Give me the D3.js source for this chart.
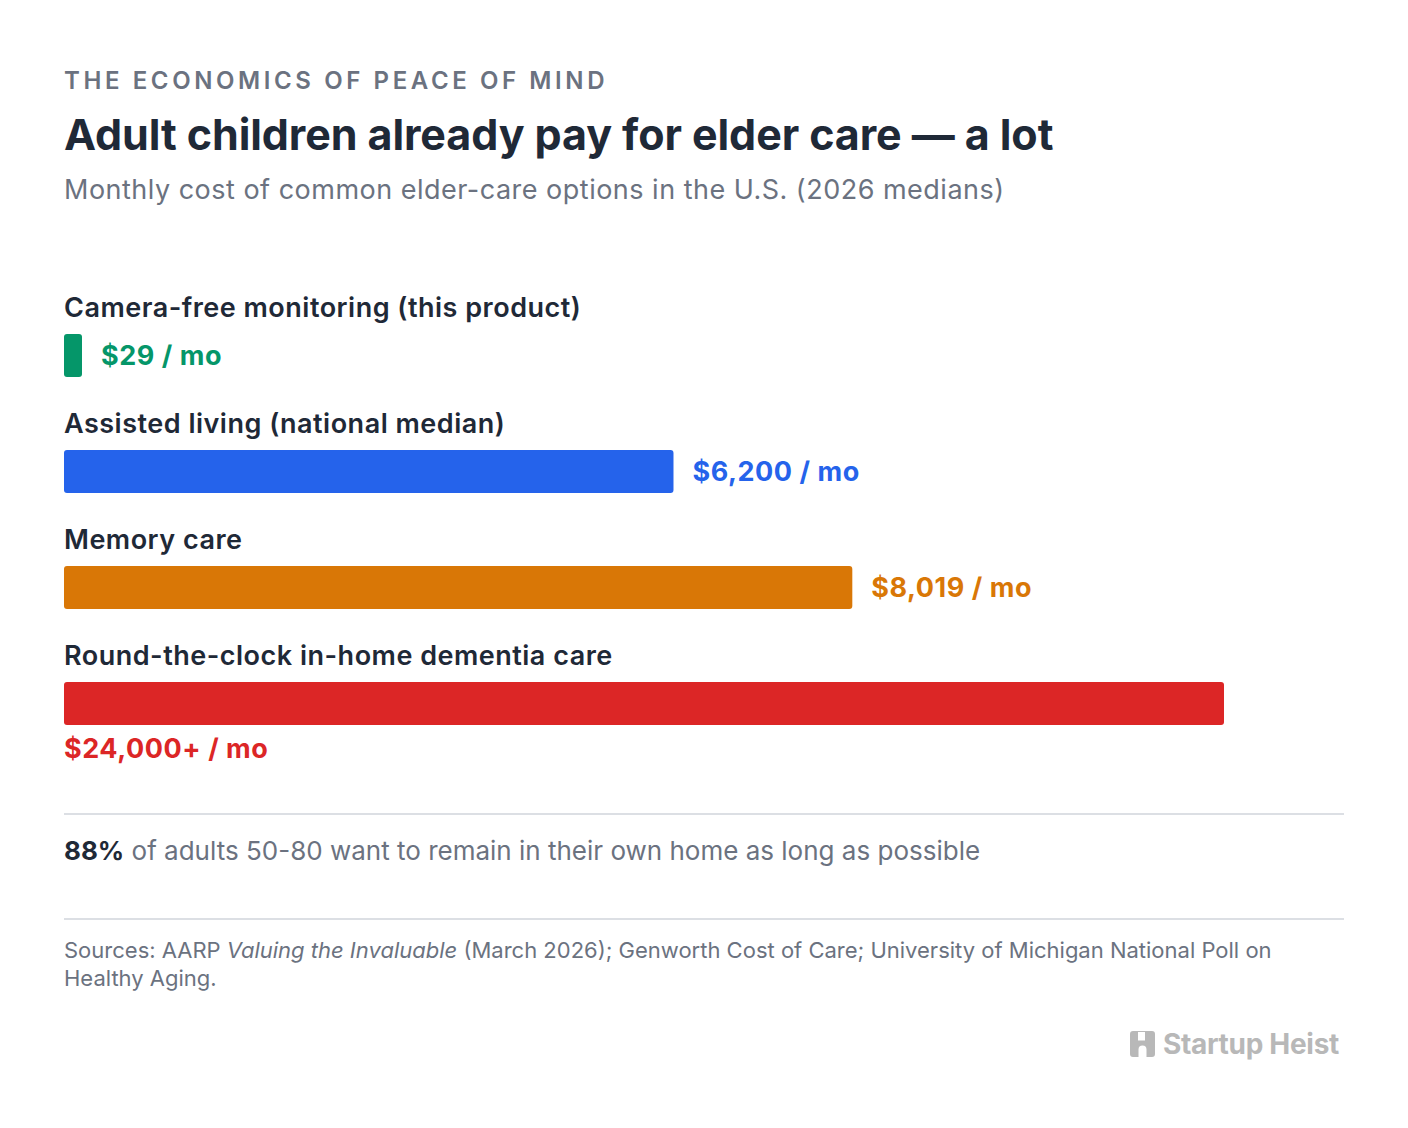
<!DOCTYPE html>
<html>
<head>
<meta charset="utf-8">
<script src="https://cdn.jsdelivr.net/npm/d3@7"></script>
<style>
  html, body { margin: 0; padding: 0; background: #fff; }
  svg { display: block; font-family: Inter, "Noto Sans", sans-serif; }
</style>
</head>
<body>
<svg id="chart" width="1408" height="1128"></svg>
<script>
const categories = [
  "Camera-free monitoring (this product)",
  "Assisted living (national median)",
  "Memory care",
  "Round-the-clock in-home dementia care"
];
const values = [29, 6200, 8019, 24000];
const valueLabels = ["$29 / mo", "$6,200 / mo", "$8,019 / mo", "$24,000+ / mo"];
const colors = ["#059669", "#2563eb", "#d97706", "#dc2626"];

const svg = d3.select("#chart");
const left = 64, right = 1344;

svg.append("text").attr("x", left).attr("y", 89)
  .attr("font-size", 24).attr("font-weight", 600).attr("letter-spacing", "3.6px")
  .attr("fill", "#6b7280").text("THE ECONOMICS OF PEACE OF MIND");

svg.append("text").attr("x", left).attr("y", 150)
  .attr("font-size", 43).attr("font-weight", 700).attr("letter-spacing", "-0.08px")
  .attr("fill", "#1f2937").text("Adult children already pay for elder care — a lot");

svg.append("text").attr("x", left).attr("y", 199)
  .attr("font-size", 27).attr("font-weight", 400).attr("letter-spacing", "0.49px")
  .attr("fill", "#6b7280").text("Monthly cost of common elder-care options in the U.S. (2026 medians)");

// scale: bars clamp at max width
const x = d3.scaleLinear().domain([0, 11800]).range([0, 1160]).clamp(true);
const y = d3.scaleBand().domain(categories).range([290, 754]).paddingInner(0).paddingOuter(0);
const minW = 18, barH = 43;

const rows = svg.append("g").selectAll("g").data(categories).join("g")
  .attr("transform", d => `translate(0,${y(d)})`);

rows.append("text").attr("x", left).attr("y", 27)
  .attr("font-size", 27).attr("font-weight", 600).attr("letter-spacing", "0.5px")
  .attr("fill", "#1f2937")
  .text(d => d);

rows.append("rect").attr("x", left).attr("y", 44)
  .attr("width", (d, i) => Math.max(minW, x(values[i])))
  .attr("height", barH).attr("rx", 3)
  .attr("fill", (d, i) => colors[i]);

rows.append("text")
  .attr("x", (d, i) => i === 3 ? left : left + Math.max(minW, x(values[i])) + 19)
  .attr("y", (d, i) => i === 3 ? 44 + barH + 33 : 75)
  .attr("font-size", 27).attr("font-weight", 700).attr("letter-spacing", "0.55px")
  .attr("fill", (d, i) => colors[i])
  .text((d, i) => valueLabels[i]);

svg.append("line").attr("x1", left).attr("x2", right).attr("y1", 814).attr("y2", 814)
  .attr("stroke", "#d1d5db").attr("stroke-width", 1.5);

const stat = svg.append("text").attr("x", left).attr("y", 860)
  .attr("font-size", 26).attr("fill", "#6b7280");
stat.append("tspan").attr("font-weight", 700).attr("fill", "#1f2937").text("88%");
stat.append("tspan").text(" of adults 50-80 want to remain in their own home as long as possible");

svg.append("line").attr("x1", left).attr("x2", right).attr("y1", 919).attr("y2", 919)
  .attr("stroke", "#d1d5db").attr("stroke-width", 1.5);

const src = svg.append("text").attr("font-size", 22).attr("fill", "#6b7280");
const l1 = src.append("tspan").attr("x", left).attr("y", 958);
l1.append("tspan").text("Sources: AARP ");
l1.append("tspan").attr("font-style", "italic").text("Valuing the Invaluable");
l1.append("tspan").text(" (March 2026); Genworth Cost of Care; University of Michigan National Poll on");
src.append("tspan").attr("x", left).attr("y", 986).text("Healthy Aging.");

// logo
const logo = svg.append("g").attr("fill", "#b8b8b8");
logo.append("path")
  .attr("d", "M1133,1031 h21 a3,3 0 0 1 3,3 v20 a3,3 0 0 1 -3,3 h-5.5 v-7.5 a4,4 0 0 0 -8,0 v7.5 h-5.5 a3,3 0 0 1 -3,-3 v-20 a3,3 0 0 1 3,-3 z M1140,1032 v8.5 h7 v-8.5 z")
  .attr("transform", "translate(-2,0)");
logo.append("text").attr("x", 1339).attr("y", 1054).attr("text-anchor", "end")
  .attr("font-size", 28).attr("font-weight", 700).attr("letter-spacing", "-0.3px")
  .text("Startup Heist");
</script>
</body>
</html>
